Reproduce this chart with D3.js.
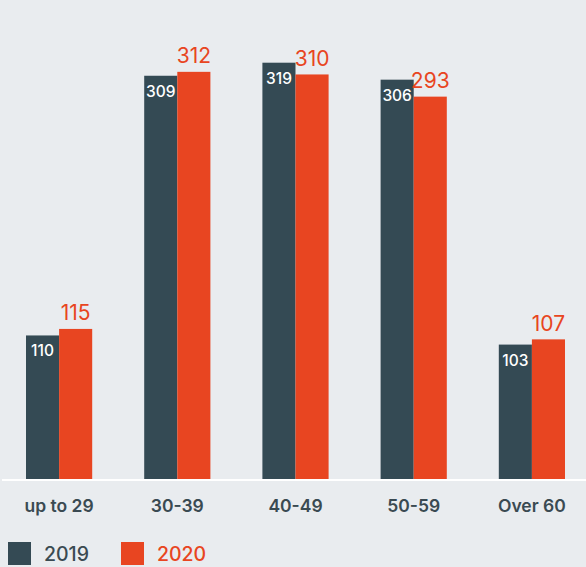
<!DOCTYPE html>
<html><head><meta charset="utf-8">
<script src="https://cdn.jsdelivr.net/npm/d3@7"></script>
<style>
html,body{margin:0;padding:0;background:#e9ecef;}
svg{display:block;font-family:Inter, "Noto Sans", sans-serif;}
</style></head>
<body><svg id="c" width="586" height="567"></svg>
<script>
const categories = ["up to 29", "30-39", "40-49", "50-59", "Over 60"];
const series = ["2019", "2020"];
const values2019 = [110, 309, 319, 306, 103];
const values2020 = [115, 312, 310, 293, 107];
const colors = {"2019": "#344a54", "2020": "#e84521"};

const svg = d3.select("#c");
const W = 586, H = 567;
svg.append("rect").attr("width", W).attr("height", H).attr("fill", "#e9ecef");

const x0 = d3.scaleBand().domain(categories).range([0, 591]).paddingInner(0.44).paddingOuter(0.22);
const x1 = d3.scaleBand().domain(series).range([0, x0.bandwidth()]);
const y = d3.scaleLinear().domain([0, 350]).range([479, 22.25]);

const data = categories.map((c, i) => ({cat: c, vals: [{s: "2019", v: values2019[i]}, {s: "2020", v: values2020[i]}]}));

const g = svg.append("g");
const groups = g.selectAll("g.grp").data(data).join("g").attr("class", "grp")
  .attr("transform", d => `translate(${x0(d.cat)},0)`);

groups.selectAll("rect").data(d => d.vals).join("rect")
  .attr("x", d => x1(d.s)).attr("width", x1.bandwidth())
  .attr("y", d => y(d.v)).attr("height", d => y(0) - y(d.v))
  .attr("fill", d => colors[d.s]);

groups.selectAll("text.val").data(d => d.vals).join("text").attr("class", "val")
  .attr("x", d => x1(d.s) + x1.bandwidth() / 2)
  .attr("y", d => d.s === "2019" ? y(d.v) + 21 : y(d.v) - 8.5)
  .attr("text-anchor", "middle")
  .attr("fill", d => d.s === "2019" ? "#ffffff" : colors["2020"])
  .attr("font-size", d => d.s === "2019" ? 15.5 : 21)
  .attr("font-weight", d => d.s === "2019" ? 500 : 400)
  .text(d => d.v);

// baseline
svg.append("line").attr("x1", 2).attr("x2", W).attr("y1", 480).attr("y2", 480)
  .attr("stroke", "#ffffff").attr("stroke-width", 2);

// axis
const xAxis = d3.axisBottom(x0).tickSize(0).tickPadding(0);
const ax = svg.append("g").attr("transform", "translate(0,500)").call(xAxis);
ax.select(".domain").remove();
ax.selectAll("text").attr("font-size", 17.5).attr("font-weight", 600)
  .attr("fill", "#3a4a52").attr("font-family", "Inter, sans-serif").attr("dy", "0.71em");

// legend
const leg = svg.append("g").attr("transform", "translate(8,542)");
const items = leg.selectAll("g").data(series).join("g")
  .attr("transform", (d, i) => `translate(${i * 113},0)`);
items.append("rect").attr("width", 23).attr("height", 23).attr("fill", d => colors[d]);
items.append("text").attr("x", 36).attr("y", 19).attr("font-size", 19.5).attr("font-weight", 500)
  .attr("fill", d => d === "2019" ? "#3a4a52" : colors["2020"]).text(d => d);
</script></body></html>
